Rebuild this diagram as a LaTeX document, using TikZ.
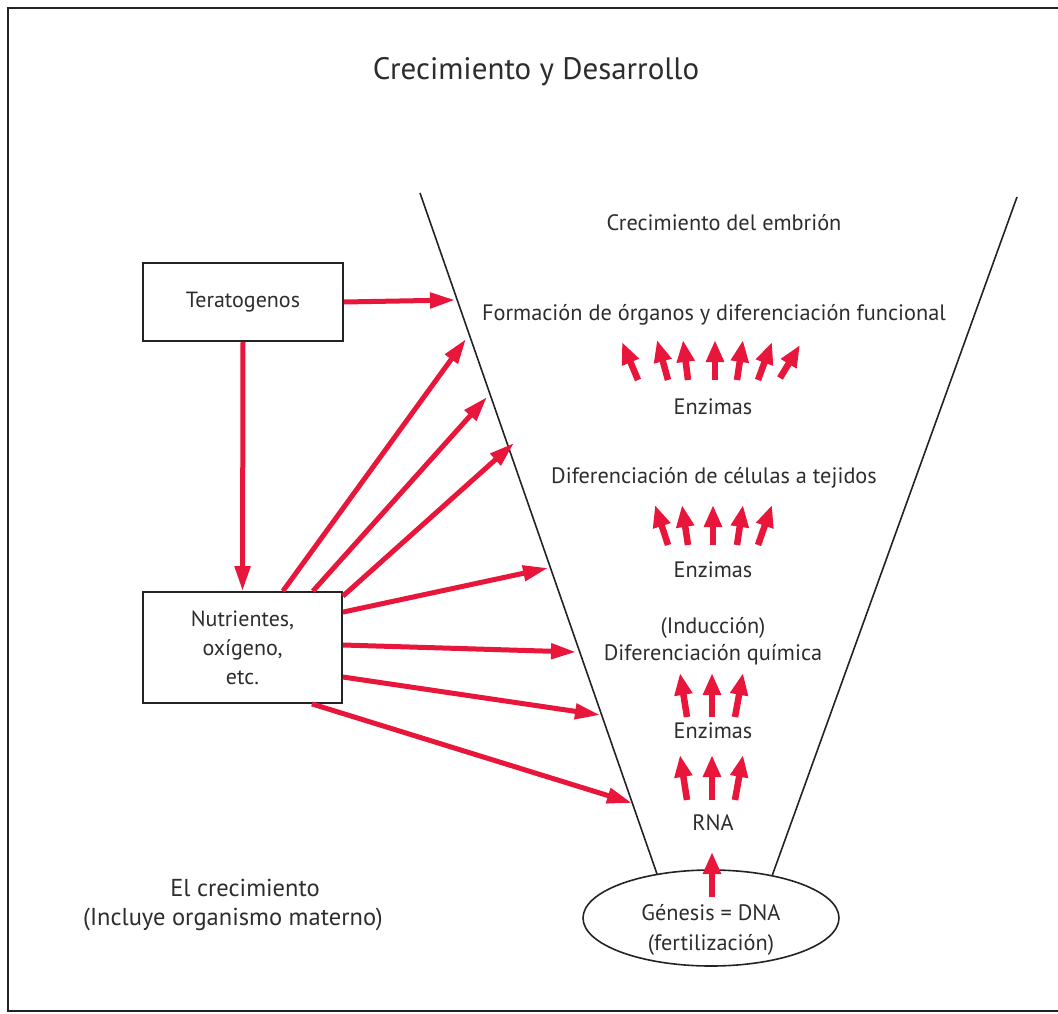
\documentclass[tikz,border=0pt]{standalone}
\usepackage{fontspec}
\setmainfont{PT Sans}
\usetikzlibrary{arrows.meta,shapes.geometric}
\definecolor{ared}{RGB}{232,22,58}
\definecolor{txt}{RGB}{45,45,45}
\definecolor{ln}{RGB}{35,35,35}
\tikzset{
  lbl/.style={text=txt,font=\fontsize{22.3}{27}\selectfont,inner sep=0pt,align=center},
  box/.style={draw=ln,line width=1.8pt,text=txt,font=\fontsize{22}{29}\selectfont,align=center,inner sep=0pt},
  bigarrow/.style={draw=ared,line width=5pt,-{Triangle[length=25pt,width=15pt]}},
  smallarrow/.style={draw=ared,line width=6.5pt,-{Triangle[length=22pt,width=17pt]}},
  funline/.style={draw=ln,line width=1.6pt}
}
\begin{document}
\begin{tikzpicture}[x=1pt,y=-1pt]
\useasboundingbox (0,0) rectangle (1058,1014);
% frame
\draw[ln,line width=2pt] (1060,8) -- (8,8) -- (8,1011) -- (1060,1011);
% title
\node[lbl,font=\fontsize{31}{36}\selectfont] (title) at (536,72) {Crecimiento y Desarrollo};
% funnel
\coordinate (fl1) at (420,193);
\coordinate (fl2) at (657,874);
\coordinate (fr1) at (1017,197);
\coordinate (fr2) at (772,876);
\draw[funline] (fl1) -- (fl2);
\draw[funline] (fr1) -- (fr2);
\node[draw=ln,line width=1.6pt,ellipse,minimum width=256pt,minimum height=96pt,inner sep=0pt,fill=white] (gen) at (711,918) {};
\node[lbl,font=\fontsize{22.3}{30}\selectfont] (gent) at (711,930) {Génesis = DNA\\(fertilización)};
% labels
\node[lbl] (emb) at (724,223) {Crecimiento del embrión};
\node[lbl] (org) at (714,315) {Formación de órganos y diferenciación funcional};
\node[lbl] (enz1) at (713,407) {Enzimas};
\node[lbl] (cel) at (714,478) {Diferenciación de células a tejidos};
\node[lbl] (enz2) at (713,570) {Enzimas};
\node[lbl] (ind) at (713,641) {(Inducción)\\Diferenciación química};
\node[lbl] (enz3) at (713,731) {Enzimas};
\node[lbl] (rna) at (713,823) {RNA};
\node[lbl,font=\fontsize{24.5}{29}\selectfont] (crec) at (245,888) {El crecimiento};
\node[lbl,font=\fontsize{24.5}{29}\selectfont] (incl) at (233,919) {(Incluye organismo materno)};
% boxes
\node[box,minimum width=200pt,minimum height=78pt] (ter) at (243,302) {Teratogenos};
\node[box,minimum width=199pt,minimum height=111pt] (nut) at (242.5,647.5) {Nutrientes,\\oxígeno,\\etc.};
% small arrows row 1
\draw[smallarrow] (638,380) -- (622,342);
\draw[smallarrow] (668,380) -- (657,340);
\draw[smallarrow] (688,380) -- (683,340);
\draw[smallarrow] (715,380) -- (715,340);
\draw[smallarrow] (737,380) -- (743,340);
\draw[smallarrow] (758,380) -- (772,342);
\draw[smallarrow] (780,378) -- (800,345);
% row 2
\draw[smallarrow] (668,545) -- (655,505);
\draw[smallarrow] (688,545) -- (682,505);
\draw[smallarrow] (713,545) -- (713,505);
\draw[smallarrow] (737,545) -- (743,505);
\draw[smallarrow] (758,545) -- (772,505);
% row 3
\draw[smallarrow] (687,717) -- (680,673);
\draw[smallarrow] (712,717) -- (712,673);
\draw[smallarrow] (735,717) -- (743,673);
% row 4
\draw[smallarrow] (687,800) -- (680,755);
\draw[smallarrow] (712,800) -- (712,755);
\draw[smallarrow] (735,800) -- (743,755);
% single
\draw[smallarrow] (712,897) -- (712,852);
% big arrows
\coordinate (t0) at (455,300);
\coordinate (t1) at (466,339);
\coordinate (t2) at (487,397);
\coordinate (t3) at (514,443);
\coordinate (t4) at (548,568);
\coordinate (t5) at (576,652);
\coordinate (t6) at (600,715);
\coordinate (t7) at (632,803);
\draw[bigarrow] (ter.east) -- (t0);
\draw[bigarrow] (ter.south) -- (nut.north);
\draw[bigarrow] ([xshift=-60pt]nut.north east) -- (t1);
\draw[bigarrow] ([xshift=-30pt]nut.north east) -- (t2);
\draw[bigarrow] ([yshift=-5pt]nut.north east) -- (t3);
\draw[bigarrow] ([yshift=-21pt]nut.north east) -- (t4);
\draw[bigarrow] ([yshift=2.5pt]nut.east) -- (t5);
\draw[bigarrow] ([yshift=-29.5pt]nut.east) -- (t6);
\draw[bigarrow] ([xshift=-31pt]nut.south east) -- (t7);
\end{tikzpicture}
\end{document}
